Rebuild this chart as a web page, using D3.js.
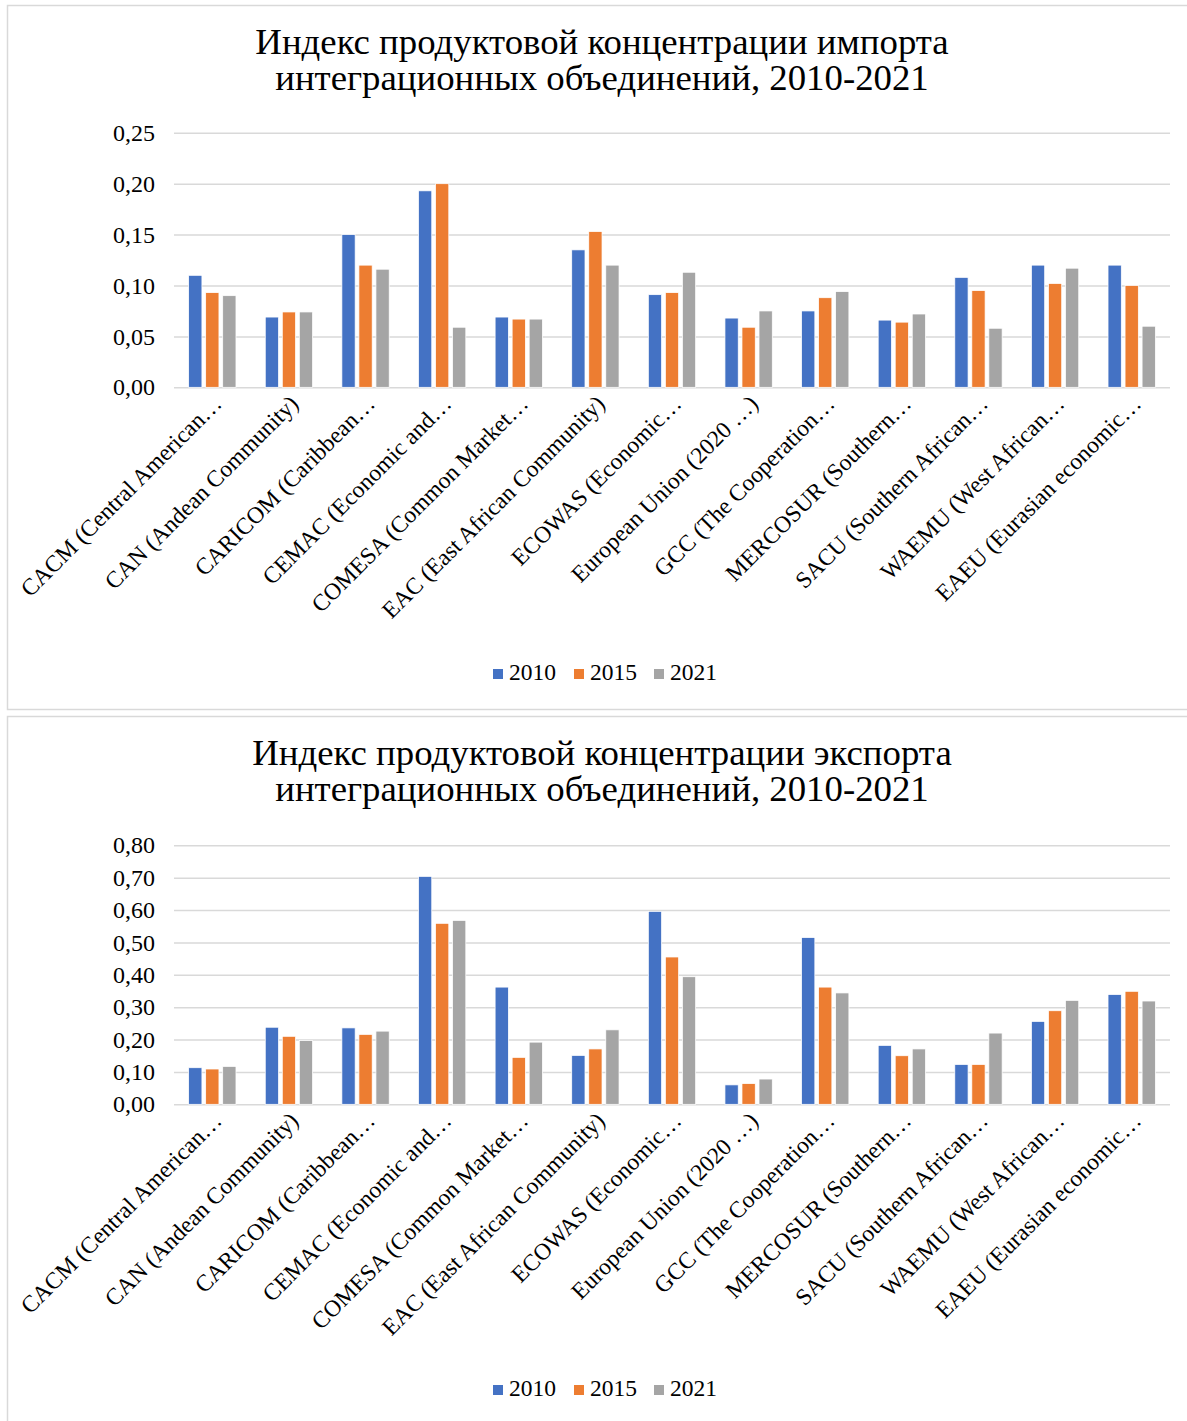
<!DOCTYPE html>
<html>
<head>
<meta charset="utf-8">
<script src="https://cdn.jsdelivr.net/npm/d3@7"></script>
<style>
  body { margin: 0; background: #fff; }
  text { font-family: "Liberation Serif", "Times New Roman", serif; fill: #000; }
</style>
</head>
<body>
<div id="chart"></div>
<script>
// categories (as truncated on the axis)
var categories = [
  "CACM (Central American…",
  "CAN (Andean Community)",
  "CARICOM (Caribbean…",
  "CEMAC (Economic and…",
  "COMESA (Common Market…",
  "EAC (East African Community)",
  "ECOWAS (Economic…",
  "European Union (2020 …)",
  "GCC (The Cooperation…",
  "MERCOSUR (Southern…",
  "SACU (Southern African…",
  "WAEMU (West African…",
  "EAEU (Eurasian economic…"
];
var years = ["2010", "2015", "2021"];
var colors = ["#4472C4", "#ED7D31", "#A5A5A5"];

// import concentration index
var import2010 = [0.110, 0.069, 0.150, 0.193, 0.069, 0.135, 0.091, 0.068, 0.075, 0.066, 0.108, 0.120, 0.120];
var import2015 = [0.093, 0.074, 0.120, 0.200, 0.067, 0.153, 0.093, 0.059, 0.088, 0.064, 0.095, 0.102, 0.100];
var import2021 = [0.090, 0.074, 0.116, 0.059, 0.067, 0.120, 0.113, 0.075, 0.094, 0.072, 0.058, 0.117, 0.060];

// export concentration index
var export2010 = [0.113, 0.238, 0.236, 0.704, 0.362, 0.151, 0.596, 0.060, 0.515, 0.182, 0.123, 0.256, 0.339];
var export2015 = [0.109, 0.210, 0.216, 0.559, 0.145, 0.171, 0.455, 0.064, 0.362, 0.150, 0.123, 0.289, 0.349];
var export2021 = [0.117, 0.197, 0.226, 0.568, 0.192, 0.230, 0.394, 0.078, 0.344, 0.171, 0.220, 0.321, 0.319];

var importTicks = [0, 0.05, 0.10, 0.15, 0.20, 0.25];
var exportTicks = [0, 0.1, 0.2, 0.3, 0.4, 0.5, 0.6, 0.7, 0.8];

var W = 1187, H = 1421;
var svg = d3.select("#chart").append("svg")
    .attr("width", W)
    .attr("height", H);

var fmt = function(d) { return d3.format(".2f")(d).replace(".", ","); };

var plotL = 174, plotR = 1170;

function drawPanel(cfg) {
    var g = svg.append("g").attr("transform", "translate(0," + cfg.top + ")");

    // panel frame
    g.append("rect")
        .attr("x", 7.5).attr("y", 0.5)
        .attr("width", W).attr("height", cfg.height)
        .attr("fill", "#fff")
        .attr("stroke", "#D9D9D9")
        .attr("stroke-width", 1.5);

    // title, two lines
    g.append("g").selectAll("text")
        .data(cfg.title)
        .enter().append("text")
        .attr("x", 602)
        .attr("y", function(d, i) { return cfg.titleY + i * 36; })
        .attr("text-anchor", "middle")
        .attr("font-size", 36.8)
        .text(function(d) { return d; });

    var x0 = d3.scaleBand()
        .domain(categories)
        .range([plotL, plotR]);

    var x1 = d3.scaleBand()
        .domain(years)
        .range([0, x0.bandwidth()])
        .paddingInner(0.22)
        .paddingOuter(0.86);

    var y = d3.scaleLinear()
        .domain([0, cfg.max])
        .range([cfg.y0, cfg.y1]);

    // gridlines + tick labels
    var yAxis = d3.axisLeft(y)
        .tickValues(cfg.ticks)
        .tickSize(-(plotR - plotL))
        .tickPadding(19)
        .tickFormat(fmt);

    var ga = g.append("g")
        .attr("transform", "translate(" + plotL + ",0)")
        .call(yAxis);
    ga.select(".domain").remove();
    ga.selectAll(".tick line")
        .attr("stroke", "#D9D9D9")
        .attr("stroke-width", 1.5);
    ga.selectAll(".tick text")
        .attr("font-family", "Liberation Serif, serif")
        .attr("font-size", 24)
        .attr("fill", "#000");

    // bars
    var rows = categories.map(function(c, i) {
        return { cat: c, vals: cfg.series.map(function(s) { return s[i]; }) };
    });

    var groups = g.append("g").selectAll("g")
        .data(rows)
        .enter().append("g")
        .attr("transform", function(d) { return "translate(" + x0(d.cat) + ",0)"; });

    groups.selectAll("rect")
        .data(function(d) { return d.vals.map(function(v, k) { return { year: years[k], v: v, k: k }; }); })
        .enter().append("rect")
        .attr("x", function(d) { return x1(d.year); })
        .attr("width", x1.bandwidth())
        .attr("y", function(d) { return y(d.v); })
        .attr("height", function(d) { return y(0) - y(d.v); })
        .attr("fill", function(d) { return colors[d.k]; })
        .attr("stroke", "#fff")
        .attr("stroke-width", 0.75);

    // rotated category labels
    g.append("g").selectAll("text")
        .data(categories)
        .enter().append("text")
        .attr("text-anchor", "end")
        .attr("font-size", 23.5)
        .attr("transform", function(d) {
            var cx = x0(d) + x0.bandwidth() / 2 + 5;
            return "translate(" + cx + "," + (cfg.y0 + 12) + ")rotate(-45)";
        })
        .attr("dy", "0.35em")
        .text(function(d) { return d; });

    // legend
    var lg = g.append("g").attr("transform", "translate(0," + cfg.legendY + ")");
    var lx = [493, 574, 654];
    years.forEach(function(yr, k) {
        lg.append("rect")
            .attr("x", lx[k]).attr("y", -11)
            .attr("width", 10).attr("height", 10)
            .attr("fill", colors[k]);
        lg.append("text")
            .attr("x", lx[k] + 16).attr("y", 0)
            .attr("font-size", 23.5)
            .text(yr);
    });
}

drawPanel({
    top: 5, height: 704,
    title: ["Индекс продуктовой концентрации импорта", "интеграционных объединений, 2010-2021"],
    titleY: 49,
    max: 0.25, ticks: importTicks,
    y0: 382.3, y1: 127.8,
    series: [import2010, import2015, import2021],
    legendY: 675
});

drawPanel({
    top: 716, height: 710,
    title: ["Индекс продуктовой концентрации экспорта", "интеграционных объединений, 2010-2021"],
    titleY: 49,
    max: 0.8, ticks: exportTicks,
    y0: 388.3, y1: 129.3,
    series: [export2010, export2015, export2021],
    legendY: 680
});
</script>
</body>
</html>
